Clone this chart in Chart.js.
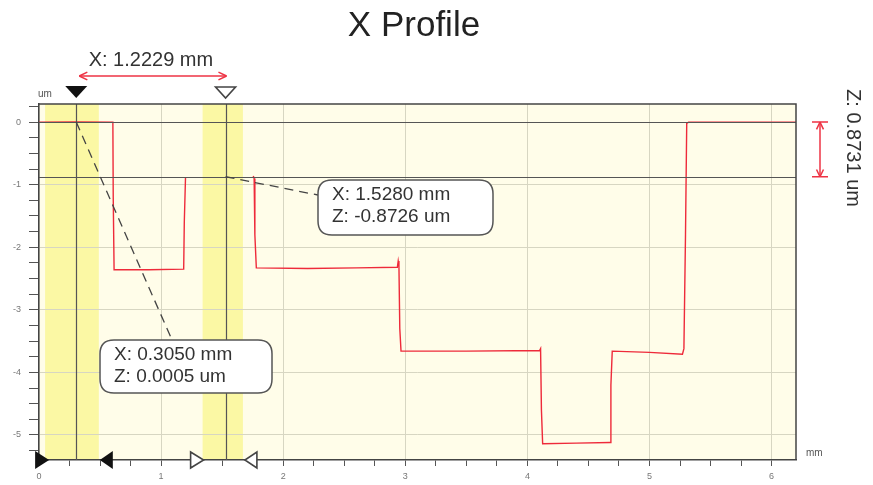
<!DOCTYPE html>
<html><head><meta charset="utf-8">
<script src="https://cdn.jsdelivr.net/npm/chart.js@4.4.1/dist/chart.umd.min.js"></script>
<style>html,body{margin:0;padding:0;background:#fff;}#wrap{width:873px;height:485px;position:relative;}</style>
</head><body><div id="wrap"><canvas id="c" width="873" height="485"></canvas></div>
<script>
// ---- data (mm, um) ----
const profileX = [0, 0.30, 0.605, 0.608, 0.615, 0.90, 1.185, 1.19, 1.20, null, 1.755, 1.762, 1.768, 1.78, 2.20, 2.60, 2.935, 2.942, 2.948, 2.955, 2.965, 3.50, 4.10, 4.108, 4.115, 4.125, 4.40, 4.678, 4.684, 4.695, 5.00, 5.27, 5.282, 5.295, 5.305, 5.32, 5.70, 6.00, 6.20];
const profileY = [0, 0.005, 0, -1.2, -2.36, -2.36, -2.35, -1.6, -0.88, null, -0.86, -0.90, -1.8, -2.33, -2.34, -2.33, -2.32, -2.22, -2.30, -3.3, -3.66, -3.66, -3.65, -3.62, -4.6, -5.14, -5.13, -5.12, -4.2, -3.66, -3.68, -3.71, -3.62, -1.8, -0.02, 0.0, 0.0, 0.0, 0.0];
const xTickLabels = [0, 1, 2, 3, 4, 5, 6];
const yTickLabels = [0, -1, -2, -3, -4, -5];
const cursorA = { x: 0.305, z: 0.0005 };
const cursorB = { x: 1.528, z: -0.8726 };
const bandA = [0.05, 0.49];
const bandB = [1.34, 1.67];
const titleText = 'X Profile';
const dxText = 'X: 1.2229 mm';
const dzText = 'Z: 0.8731 um';
const calloutA = ['X: 0.3050 mm', 'Z: 0.0005 um'];
const calloutB = ['X: 1.5280 mm', 'Z: -0.8726 um'];

const points = profileX.map((x, i) => (x === null ? { x: NaN, y: null } : { x: x, y: profileY[i] }));
const FONT = '"Liberation Sans", Arial, sans-serif';

function minorTicks(lo, hi, step) { const t = []; for (let v = lo; v <= hi + 1e-9; v += step) t.push({ value: Math.round(v * 100) / 100 }); return t; }

function rr(ctx, x, y, w, h, r) {
  ctx.beginPath(); ctx.moveTo(x + r, y); ctx.lineTo(x + w - r, y); ctx.quadraticCurveTo(x + w, y, x + w, y + r);
  ctx.lineTo(x + w, y + h - r); ctx.quadraticCurveTo(x + w, y + h, x + w - r, y + h); ctx.lineTo(x + r, y + h);
  ctx.quadraticCurveTo(x, y + h, x, y + h - r); ctx.lineTo(x, y + r); ctx.quadraticCurveTo(x, y, x + r, y); ctx.closePath();
}
function tri(ctx, pts, filled) {
  ctx.beginPath(); ctx.moveTo(pts[0][0], pts[0][1]); ctx.lineTo(pts[1][0], pts[1][1]); ctx.lineTo(pts[2][0], pts[2][1]); ctx.closePath();
  if (filled) { ctx.fillStyle = '#111'; ctx.fill(); } else { ctx.fillStyle = '#fff'; ctx.fill(); ctx.strokeStyle = '#444'; ctx.lineWidth = 1.6; ctx.stroke(); }
}
function arrowHead(ctx, x, y, ang, size) {
  ctx.beginPath(); ctx.moveTo(x, y);
  ctx.lineTo(x - size * Math.cos(ang - 0.45), y - size * Math.sin(ang - 0.45));
  ctx.moveTo(x, y);
  ctx.lineTo(x - size * Math.cos(ang + 0.45), y - size * Math.sin(ang + 0.45));
  ctx.stroke();
}

const decor = {
  id: 'decor',
  beforeDraw(chart) {
    const { ctx, chartArea: a, scales: { x, y } } = chart;
    ctx.save();
    ctx.fillStyle = '#fffde9'; ctx.fillRect(a.left, a.top, a.right - a.left, a.bottom - a.top);
    ctx.fillStyle = '#fbf8a4';
    [bandA, bandB].forEach(b => { const l = x.getPixelForValue(b[0]), r = x.getPixelForValue(b[1]); ctx.fillRect(l, a.top, r - l, a.bottom - a.top); });
    ctx.restore();
  },
  afterDatasetsDraw(chart) {
    const { ctx, chartArea: a, scales: { x, y } } = chart;
    ctx.save();
    ctx.strokeStyle = '#555'; ctx.lineWidth = 1.2;
    [cursorA, cursorB].forEach(c => {
      const px = Math.round(x.getPixelForValue(c.x)) + 0.5;
      ctx.beginPath(); ctx.moveTo(px, a.top); ctx.lineTo(px, a.bottom); ctx.stroke();
      const py = Math.round(y.getPixelForValue(c.z)) + 0.5;
      ctx.beginPath(); ctx.moveTo(a.left, py); ctx.lineTo(a.right, py); ctx.stroke();
    });
    // frame top/right
    ctx.strokeStyle = '#444'; ctx.lineWidth = 1.5;
    ctx.beginPath(); ctx.moveTo(a.left, a.top); ctx.lineTo(a.right, a.top); ctx.lineTo(a.right, a.bottom); ctx.stroke();
    ctx.restore();
  },
  afterDraw(chart) {
    const { ctx, chartArea: a, scales: { x, y } } = chart;
    ctx.save();
    const ax = x.getPixelForValue(cursorA.x), ay = y.getPixelForValue(cursorA.z);
    const bx = x.getPixelForValue(cursorB.x), by = y.getPixelForValue(cursorB.z);
    // title
    ctx.fillStyle = '#222'; ctx.font = '35px ' + FONT; ctx.textAlign = 'center'; ctx.textBaseline = 'middle';
    ctx.fillText(titleText, 414, 26);
    // axis unit labels
    ctx.fillStyle = '#555'; ctx.font = '10px ' + FONT;
    ctx.textAlign = 'left'; ctx.fillText('um', 38, 94);
    ctx.fillText('mm', 806, 453);
    // top markers
    tri(ctx, [[ax - 11, a.top - 18], [ax + 11, a.top - 18], [ax, a.top - 6]], true);
    tri(ctx, [[bx - 10, a.top - 17], [bx + 10, a.top - 17], [bx, a.top - 6]], false);
    // delta X arrow
    ctx.strokeStyle = '#ee3344'; ctx.lineWidth = 1.5;
    const arY = 76;
    ctx.beginPath(); ctx.moveTo(ax + 3, arY); ctx.lineTo(bx + 1, arY); ctx.stroke();
    arrowHead(ctx, ax + 3, arY, Math.PI, 9); arrowHead(ctx, bx + 1, arY, 0, 9);
    ctx.fillStyle = '#333'; ctx.font = '20px ' + FONT; ctx.textAlign = 'center';
    ctx.fillText(dxText, (ax + bx) / 2, 60);
    // bottom band markers
    const bl1 = x.getPixelForValue(bandA[0]), br1 = x.getPixelForValue(bandA[1]);
    const bl2 = x.getPixelForValue(bandB[0]), br2 = x.getPixelForValue(bandB[1]);
    const by0 = a.bottom;
    tri(ctx, [[bl1 - 10, by0 - 9], [bl1 - 10, by0 + 9], [bl1 + 4, by0]], true);
    tri(ctx, [[br1 + 14, by0 - 9], [br1 + 14, by0 + 9], [br1 + 1, by0]], true);
    tri(ctx, [[bl2 - 12, by0 - 8], [bl2 - 12, by0 + 8], [bl2 + 1, by0]], false);
    tri(ctx, [[br2 + 14, by0 - 8], [br2 + 14, by0 + 8], [br2 + 2, by0]], false);
    // delta Z arrow (right)
    const zx = 820;
    ctx.strokeStyle = '#ee3344'; ctx.lineWidth = 1.5;
    ctx.beginPath(); ctx.moveTo(zx, ay); ctx.lineTo(zx, by); ctx.stroke();
    ctx.beginPath(); ctx.moveTo(zx - 8, ay); ctx.lineTo(zx + 8, ay); ctx.moveTo(zx - 8, by); ctx.lineTo(zx + 8, by); ctx.stroke();
    arrowHead(ctx, zx, ay, -Math.PI / 2, 8); arrowHead(ctx, zx, by, Math.PI / 2, 8);
    ctx.save(); ctx.translate(853, 148); ctx.rotate(Math.PI / 2);
    ctx.fillStyle = '#333'; ctx.font = '20px ' + FONT; ctx.textAlign = 'center'; ctx.textBaseline = 'middle';
    ctx.fillText(dzText, 0, 0); ctx.restore();
    // callouts
    ctx.strokeStyle = '#444'; ctx.lineWidth = 1.3; ctx.setLineDash([9, 6]);
    ctx.beginPath(); ctx.moveTo(ax, ay); ctx.lineTo(172, 340); ctx.stroke();
    ctx.beginPath(); ctx.moveTo(bx, by); ctx.lineTo(318, 195); ctx.stroke();
    ctx.setLineDash([]);
    const boxes = [[100, 340, 172, 53, calloutA], [318, 180, 175, 55, calloutB]];
    boxes.forEach(b => {
      rr(ctx, b[0], b[1], b[2], b[3], 14);
      ctx.fillStyle = '#fff'; ctx.fill(); ctx.strokeStyle = '#555'; ctx.lineWidth = 1.5; ctx.stroke();
      ctx.fillStyle = '#333'; ctx.font = '19px ' + FONT; ctx.textAlign = 'left'; ctx.textBaseline = 'middle';
      ctx.fillText(b[4][0], b[0] + 14, b[1] + 15);
      ctx.fillText(b[4][1], b[0] + 14, b[1] + 37);
    });
    ctx.restore();
  }
};

const gridColor = c => (c.tick && Number.isInteger(c.tick.value) ? '#d7d6c2' : 'rgba(0,0,0,0)');

new Chart(document.getElementById('c'), {
  type: 'line',
  data: { datasets: [{ data: points, borderColor: '#ee2a3a', borderWidth: 1.4, pointRadius: 0, tension: 0, spanGaps: false, fill: false }] },
  options: {
    responsive: false, animation: false, parsing: true,
    layout: { padding: { left: 0, top: 104, right: 77, bottom: 0 } },
    plugins: { legend: { display: false }, tooltip: { enabled: false }, title: { display: false } },
    scales: {
      x: {
        type: 'linear', min: 0, max: 6.2,
        afterBuildTicks: s => { s.ticks = minorTicks(0, 6, 0.25); },
        afterFit: s => { s.height = 25; },
        ticks: { autoSkip: false, maxRotation: 0, padding: 5, color: '#777', font: { size: 9, family: FONT },
          callback: v => (xTickLabels.includes(v) ? String(v) : '') },
        grid: { color: gridColor, tickColor: '#555', tickLength: 6, lineWidth: 1 },
        border: { color: '#444', width: 1.5 }
      },
      y: {
        type: 'linear', min: -5.4, max: 0.29,
        afterBuildTicks: s => { s.ticks = minorTicks(-5.25, 0.25, 0.25); },
        afterFit: s => { s.width = 39; },
        ticks: { autoSkip: false, padding: 8, color: '#777', font: { size: 9, family: FONT },
          callback: v => (yTickLabels.includes(v) ? String(v) : '') },
        grid: { color: gridColor, tickColor: '#555', tickLength: 10, lineWidth: 1 },
        border: { color: '#444', width: 1.5 }
      }
    }
  },
  plugins: [decor]
});
</script></body></html>
